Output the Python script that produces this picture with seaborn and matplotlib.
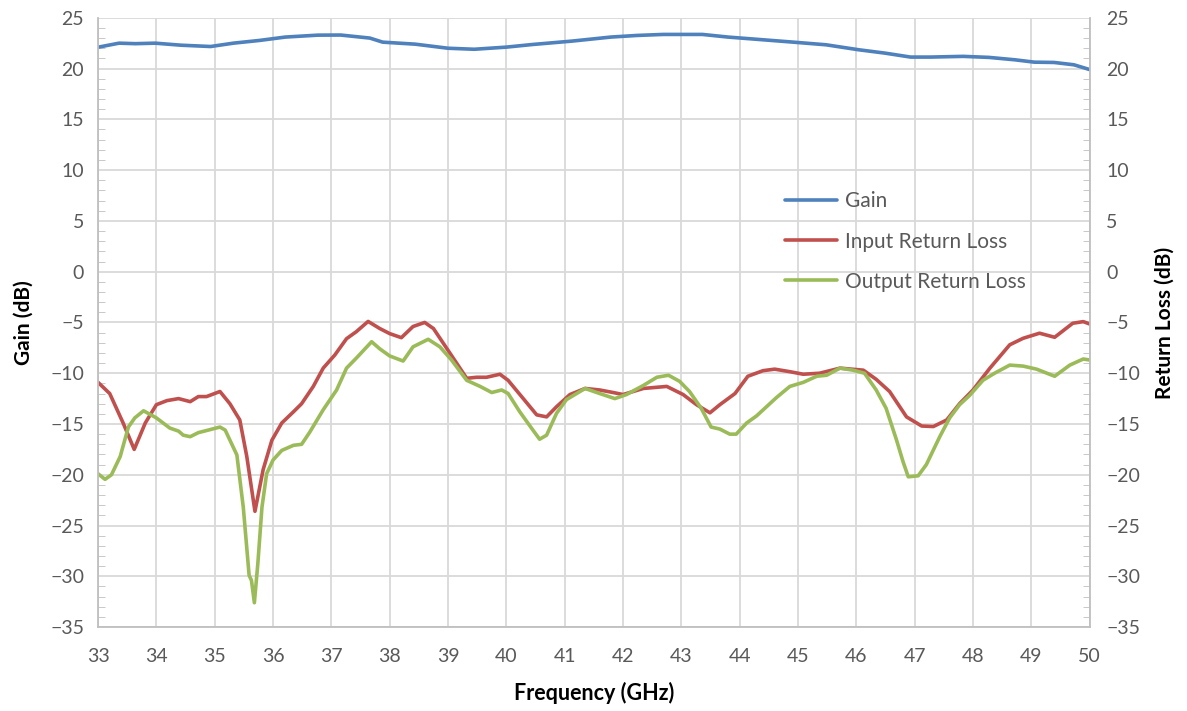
import numpy as np
import pandas as pd
import matplotlib
matplotlib.use("Agg")
import matplotlib.pyplot as plt
import seaborn as sns
from matplotlib.ticker import MultipleLocator

# --- Data ---
gain_f = [33.0, 33.36, 33.64, 33.98, 34.42, 34.93, 35.32, 35.77, 36.21, 36.77, 37.16,
          37.66, 37.88, 38.44, 39.0, 39.45, 40.0, 40.45, 41.12, 41.79, 42.24, 42.69,
          43.36, 43.8, 44.25, 44.92, 45.48, 46.04, 46.49, 46.93, 47.27, 47.83, 48.27,
          48.72, 49.05, 49.39, 49.73, 50.0]
gain_db = [22.1, 22.5, 22.45, 22.5, 22.3, 22.17, 22.5, 22.77, 23.1, 23.29, 23.3,
           23.0, 22.6, 22.4, 22.0, 21.9, 22.11, 22.37, 22.7, 23.1, 23.26, 23.36,
           23.36, 23.1, 22.9, 22.6, 22.34, 21.85, 21.52, 21.13, 21.13, 21.2, 21.1,
           20.86, 20.63, 20.6, 20.37, 19.9]

irl_f = [33.0, 33.2, 33.43, 33.62, 33.81, 34.0, 34.18, 34.38, 34.58, 34.72, 34.86,
         35.09, 35.26, 35.43, 35.55, 35.69, 35.83, 35.98, 36.15, 36.35, 36.49, 36.69,
         36.86, 37.06, 37.26, 37.43, 37.63, 37.83, 38.0, 38.2, 38.4, 38.6, 38.75,
         39.03, 39.32, 39.49, 39.66, 39.89, 40.03, 40.29, 40.52, 40.69, 40.86, 41.09,
         41.35, 41.6, 41.83, 42.0, 42.35, 42.75, 43.03, 43.26, 43.49, 43.66, 43.92,
         44.14, 44.4, 44.6, 44.86, 45.09, 45.37, 45.72, 46.12, 46.34, 46.57, 46.86,
         47.12, 47.32, 47.55, 47.77, 48.0, 48.29, 48.63, 48.86, 49.14, 49.4, 49.71,
         49.89, 50.0]
irl_db = [-10.9, -12.0, -14.9, -17.5, -14.9, -13.1, -12.7, -12.5, -12.8, -12.3, -12.3,
          -11.8, -13.0, -14.6, -18.2, -23.6, -19.5, -16.6, -14.9, -13.8, -13.0, -11.3,
          -9.5, -8.2, -6.6, -5.9, -4.9, -5.6, -6.1, -6.5, -5.4, -5.0, -5.6,
          -8.0, -10.5, -10.4, -10.4, -10.1, -10.7, -12.5, -14.1, -14.3, -13.3, -12.1,
          -11.5, -11.65, -11.9, -12.1, -11.5, -11.3, -12.1, -13.1, -13.9, -13.1, -12.0,
          -10.3, -9.75, -9.6, -9.85, -10.1, -10.0, -9.5, -9.7, -10.6, -11.8, -14.3,
          -15.2, -15.25, -14.6, -13.0, -11.65, -9.5, -7.2, -6.56, -6.06, -6.46, -5.08,
          -4.92, -5.15]

orl_f = [33.0, 33.12, 33.23, 33.38, 33.52, 33.63, 33.78, 34.0, 34.23, 34.38, 34.46,
         34.58, 34.72, 34.89, 35.09, 35.18, 35.38, 35.49, 35.59, 35.63, 35.68, 35.74,
         35.81, 35.89, 36.0, 36.15, 36.35, 36.49, 36.63, 36.86, 37.09, 37.26, 37.43,
         37.69, 37.83, 38.0, 38.23, 38.4, 38.66, 38.86, 39.06, 39.32, 39.55, 39.75,
         39.92, 40.03, 40.23, 40.43, 40.57, 40.69, 40.86, 41.03, 41.35, 41.6, 41.86,
         42.06, 42.35, 42.58, 42.78, 42.97, 43.14, 43.34, 43.51, 43.66, 43.83, 43.94,
         44.12, 44.29, 44.46, 44.63, 44.86, 45.09, 45.32, 45.49, 45.72, 45.94, 46.14,
         46.34, 46.51, 46.69, 46.8, 46.89, 47.06, 47.2, 47.43, 47.6, 47.77, 47.94,
         48.17, 48.37, 48.63, 48.86, 49.09, 49.4, 49.66, 49.89, 50.0]
orl_db = [-19.9, -20.45, -20.0, -18.2, -15.3, -14.4, -13.7, -14.4, -15.4, -15.7, -16.1,
          -16.25, -15.85, -15.6, -15.3, -15.6, -18.05, -23.2, -29.9, -30.4, -32.6, -28.7,
          -23.2, -19.9, -18.55, -17.6, -17.1, -17.0, -15.8, -13.6, -11.65, -9.5, -8.5,
          -6.9, -7.6, -8.3, -8.8, -7.4, -6.66, -7.4, -8.7, -10.7, -11.3, -11.9,
          -11.65, -12.0, -13.8, -15.4, -16.5, -16.1, -13.95, -12.6, -11.5, -12.0, -12.5,
          -12.1, -11.2, -10.4, -10.2, -10.8, -11.8, -13.45, -15.3, -15.5, -16.0, -16.0,
          -14.9, -14.2, -13.3, -12.4, -11.3, -10.9, -10.3, -10.2, -9.5, -9.7, -10.0,
          -11.65, -13.45, -16.6, -18.7, -20.2, -20.1, -19.0, -16.25, -14.4, -13.1, -12.2,
          -10.7, -10.0, -9.2, -9.3, -9.6, -10.3, -9.2, -8.6, -8.7]

# --- Style ---
sns.set_style("white")
plt.rcParams["font.family"] = ["Lato", "DejaVu Sans"]
grid_c = "#d9d9d9"
text_c = "#595959"

fig, ax = plt.subplots(figsize=(11.87, 7.11), dpi=100)
fig.subplots_adjust(left=0.0826, right=0.918, top=0.975, bottom=0.118)

sns.lineplot(x=gain_f, y=gain_db, ax=ax, color="#4f81bd", lw=2.6, label="Gain")
sns.lineplot(x=irl_f, y=irl_db, ax=ax, color="#c0504d", lw=2.6, label="Input Return Loss")
sns.lineplot(x=orl_f, y=orl_db, ax=ax, color="#9bbb59", lw=2.6, label="Output Return Loss")

ax.set_xlim(33, 50)
ax.set_ylim(-35, 25)
ax.xaxis.set_major_locator(MultipleLocator(1))
ax.xaxis.set_minor_locator(MultipleLocator(0.2))
ax.yaxis.set_major_locator(MultipleLocator(5))
ax.yaxis.set_minor_locator(MultipleLocator(1))
ax.grid(True, which="major", color=grid_c, lw=1.3)
ax.set_axisbelow(True)

for side in ["left", "bottom", "right"]:
    ax.spines[side].set_color("#bfbfbf")
    ax.spines[side].set_linewidth(1.3)
ax.spines["top"].set_visible(False)

ax.tick_params(axis="both", which="major", length=0, labelsize=14, labelcolor=text_c, pad=10)
ax.tick_params(axis="both", which="minor", direction="in", length=5, color="#bfbfbf")
ax.tick_params(axis="x", pad=15)

ax.set_xlabel("Frequency (GHz)", fontsize=15.5, fontweight="bold", color="black", labelpad=12)
ax.set_ylabel("Gain (dB)", fontsize=15, fontweight="bold", color="black", labelpad=12)

# secondary axis, same scale
ax2 = ax.twinx()
ax2.set_ylim(-35, 25)
ax2.yaxis.set_major_locator(MultipleLocator(5))
ax2.yaxis.set_minor_locator(MultipleLocator(1))
ax2.tick_params(axis="y", which="major", length=0, labelsize=14, labelcolor=text_c, pad=12)
ax2.tick_params(axis="y", which="minor", direction="in", length=5, color="#bfbfbf")
for s in ax2.spines.values():
    s.set_visible(False)
ax2.set_ylabel("Return Loss (dB)", fontsize=15, fontweight="bold", color="black", labelpad=10)

leg = ax.legend(loc="upper left", bbox_to_anchor=(0.674, 0.746), frameon=False,
                fontsize=15, handlelength=2.5, labelspacing=0.97, handletextpad=0.35)
for t in leg.get_texts():
    t.set_color(text_c)

fig.savefig("out.png", dpi=100)
